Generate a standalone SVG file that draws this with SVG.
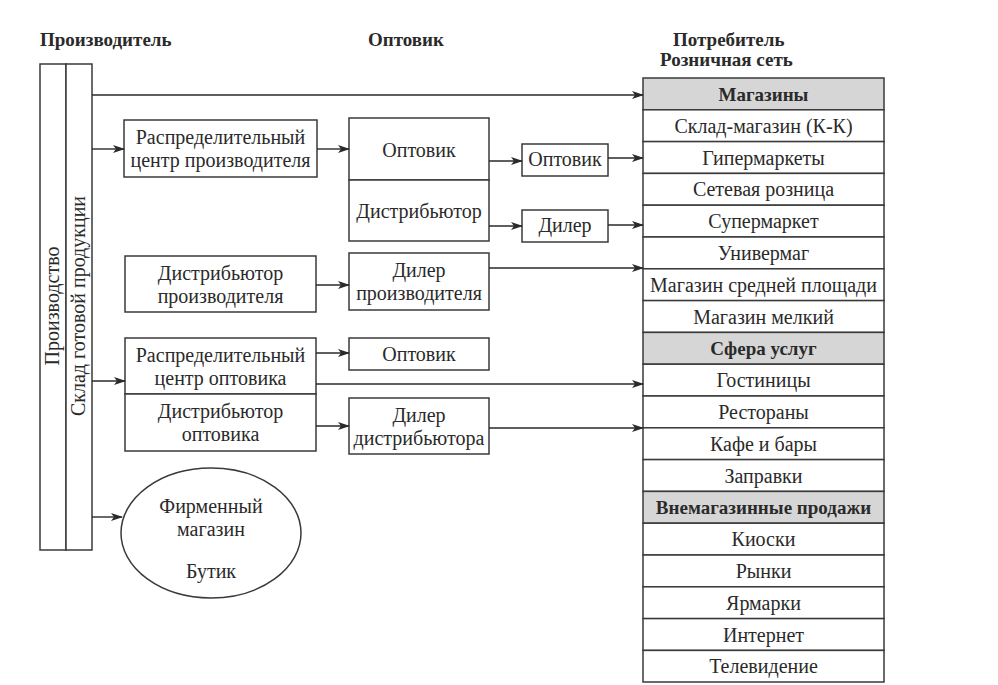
<svg xmlns="http://www.w3.org/2000/svg" width="998" height="685" viewBox="0 0 998 685">
<defs>
<marker id="ah" markerWidth="12" markerHeight="8" refX="11" refY="4" orient="auto" markerUnits="userSpaceOnUse">
<path d="M0,0 L12,4 L0,8 L3,4 z" fill="#2a2a2a"/>
</marker>
<style>
.b{fill:#fff;stroke:#3a3a3a;stroke-width:1.5}
.g{fill:#d6d6d6;stroke:#3a3a3a;stroke-width:1.5}
.t{font-family:"Liberation Serif","Tinos","DejaVu Serif",serif;font-size:20px;fill:#2a2a2a;text-anchor:middle}
.h{font-family:"Liberation Serif","Tinos","DejaVu Serif",serif;font-size:19px;font-weight:bold;fill:#2a2a2a}
.hb{font-weight:bold;font-size:19px}
.c{fill:none;stroke:#2a2a2a;stroke-width:1.4}
.a{marker-end:url(#ah)}
</style>
</defs>
<rect width="998" height="685" fill="#fff"/>
<g id="headers">
<text class="h" x="40" y="46">Производитель</text>
<text class="h" x="368" y="46">Оптовик</text>
<text class="h" x="673" y="46">Потребитель</text>
<text class="h" x="660" y="66">Розничная сеть</text>
</g>
<g id="producer">
<rect class="b" x="40" y="64" width="26" height="486"/>
<rect class="b" x="66" y="64" width="26" height="486"/>
<text class="t" transform="translate(59,306) rotate(-90)">Производство</text>
<text class="t" transform="translate(85,306) rotate(-90)">Склад готовой продукции</text>
</g>
<g id="rc-producer">
<rect class="b" x="124" y="120" width="193" height="57"/>
<text class="t" x="220.5" y="144">Распределительный</text>
<text class="t" x="220.5" y="167">центр производителя</text>
</g>
<g id="wholesaler-distributor">
<rect class="b" x="349" y="118" width="140" height="62"/>
<rect class="b" x="349" y="180" width="140" height="61"/>
<text class="t" x="419" y="157">Оптовик</text>
<text class="t" x="419" y="218">Дистрибьютор</text>
</g>
<g id="wholesaler2">
<rect class="b" x="522" y="144" width="86" height="32"/>
<text class="t" x="565" y="166">Оптовик</text>
</g>
<g id="dealer">
<rect class="b" x="522" y="210" width="86" height="32"/>
<text class="t" x="565" y="232">Дилер</text>
</g>
<g id="distributor-producer">
<rect class="b" x="125" y="256" width="191" height="56"/>
<text class="t" x="220.5" y="280">Дистрибьютор</text>
<text class="t" x="220.5" y="303">производителя</text>
</g>
<g id="dealer-producer">
<rect class="b" x="349" y="253" width="140" height="57"/>
<text class="t" x="419" y="277">Дилер</text>
<text class="t" x="419" y="300">производителя</text>
</g>
<g id="rc-wholesaler">
<rect class="b" x="125" y="338" width="191" height="56"/>
<text class="t" x="220.5" y="362">Распределительный</text>
<text class="t" x="220.5" y="385">центр оптовика</text>
</g>
<g id="distributor-wholesaler">
<rect class="b" x="125" y="394" width="191" height="57"/>
<text class="t" x="220.5" y="418">Дистрибьютор</text>
<text class="t" x="220.5" y="441">оптовика</text>
</g>
<g id="wholesaler3">
<rect class="b" x="349" y="338" width="140" height="32"/>
<text class="t" x="419" y="361">Оптовик</text>
</g>
<g id="dealer-distributor">
<rect class="b" x="349" y="398" width="140" height="56"/>
<text class="t" x="419" y="422">Дилер</text>
<text class="t" x="419" y="445">дистрибьютора</text>
</g>
<g id="brand-store">
<ellipse class="b" cx="211" cy="533" rx="90" ry="65"/>
<text class="t" x="211" y="513">Фирменный</text>
<text class="t" x="211" y="536">магазин</text>
<text class="t" x="211" y="578">Бутик</text>
</g>
<g id="retail">
<rect class="g" x="643" y="78" width="241" height="31.8"/>
<rect class="b" x="643" y="109.8" width="241" height="31.8"/>
<rect class="b" x="643" y="141.6" width="241" height="31.8"/>
<rect class="b" x="643" y="173.4" width="241" height="31.8"/>
<rect class="b" x="643" y="205.2" width="241" height="31.8"/>
<rect class="b" x="643" y="237" width="241" height="31.8"/>
<rect class="b" x="643" y="268.8" width="241" height="31.8"/>
<rect class="b" x="643" y="300.6" width="241" height="31.8"/>
<rect class="g" x="643" y="332.4" width="241" height="31.8"/>
<rect class="b" x="643" y="364.2" width="241" height="31.8"/>
<rect class="b" x="643" y="396" width="241" height="31.8"/>
<rect class="b" x="643" y="427.8" width="241" height="31.8"/>
<rect class="b" x="643" y="459.6" width="241" height="31.8"/>
<rect class="g" x="643" y="491.4" width="241" height="31.8"/>
<rect class="b" x="643" y="523.2" width="241" height="31.8"/>
<rect class="b" x="643" y="555" width="241" height="31.8"/>
<rect class="b" x="643" y="586.8" width="241" height="31.8"/>
<rect class="b" x="643" y="618.6" width="241" height="31.8"/>
<rect class="b" x="643" y="650.4" width="241" height="31.6"/>
<text class="t hb" x="763.5" y="100.5">Магазины</text>
<text class="t" x="763.5" y="132.5">Склад-магазин (К-К)</text>
<text class="t" x="763.5" y="164.5">Гипермаркеты</text>
<text class="t" x="763.5" y="196">Сетевая розница</text>
<text class="t" x="763.5" y="228">Супермаркет</text>
<text class="t" x="763.5" y="260">Универмаг</text>
<text class="t" x="763.5" y="291.5">Магазин средней площади</text>
<text class="t" x="763.5" y="323.5">Магазин мелкий</text>
<text class="t hb" x="763.5" y="355">Сфера услуг</text>
<text class="t" x="763.5" y="387">Гостиницы</text>
<text class="t" x="763.5" y="418.5">Рестораны</text>
<text class="t" x="763.5" y="450.5">Кафе и бары</text>
<text class="t" x="763.5" y="482.5">Заправки</text>
<text class="t hb" x="763.5" y="514">Внемагазинные продажи</text>
<text class="t" x="763.5" y="546">Киоски</text>
<text class="t" x="763.5" y="577.5">Рынки</text>
<text class="t" x="763.5" y="609.5">Ярмарки</text>
<text class="t" x="763.5" y="641.5">Интернет</text>
<text class="t" x="763.5" y="673">Телевидение</text>
</g>
<g id="connectors">
<line class="c a" x1="92" y1="95" x2="643" y2="95"/>
<line class="c a" x1="92" y1="149" x2="124" y2="149"/>
<line class="c a" x1="317" y1="149" x2="349" y2="149"/>
<line class="c a" x1="489" y1="161" x2="522" y2="161"/>
<line class="c a" x1="608" y1="158" x2="643" y2="158"/>
<line class="c a" x1="489" y1="226" x2="522" y2="226"/>
<line class="c a" x1="608" y1="225" x2="643" y2="225"/>
<line class="c a" x1="316" y1="285" x2="349" y2="285"/>
<line class="c a" x1="489" y1="268" x2="643" y2="268"/>
<line class="c a" x1="92" y1="381" x2="125" y2="381"/>
<line class="c a" x1="316" y1="353" x2="349" y2="353"/>
<line class="c a" x1="316" y1="384" x2="643" y2="384"/>
<line class="c a" x1="316" y1="426" x2="349" y2="426"/>
<line class="c a" x1="489" y1="428" x2="643" y2="428"/>
<line class="c a" x1="92" y1="517" x2="122" y2="517"/>
</g>
</svg>
